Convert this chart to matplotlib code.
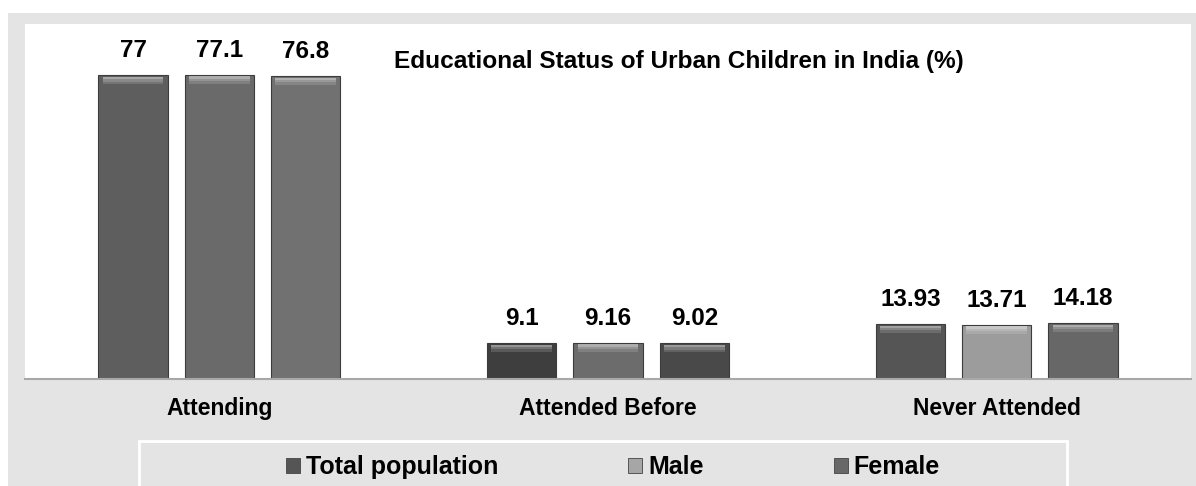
import matplotlib
matplotlib.use('Agg')
import matplotlib.pyplot as plt
import numpy as np
from matplotlib.patches import Rectangle, Patch

# ---- data ----
categories = ['Attending', 'Attended Before', 'Never Attended']
series = ['Total population', 'Male', 'Female']
total_population = [77, 9.1, 13.93]
male = [77.1, 9.16, 13.71]
female = [76.8, 9.02, 14.18]
title = 'Educational Status of Urban Children in India (%)'

# ---- style ----
bar_colors = [
    ['#5e5e5e', '#3e3e3e', '#555555'],
    ['#6a6a6a', '#6c6c6c', '#9c9c9c'],
    ['#717171', '#494949', '#676767'],
]
legend_colors = ['#555555', '#a6a6a6', '#686868']
# bevel bands below each bar top: (depth from top, thickness, alpha) in data units
bevel = [(1.0, 0.6, 0.45), (1.6, 0.6, 0.28), (2.2, 0.6, 0.14)]

plt.rcParams['font.family'] = ['Liberation Sans', 'DejaVu Sans']

W, H = 1196, 486
fig = plt.figure(figsize=(W / 100, H / 100), dpi=100)
fig.patch.set_facecolor('white')

# grey outer frame
fig.patches.append(Rectangle((8 / W, 0), 1.0, (H - 13) / H, transform=fig.transFigure,
                             fc='#e4e4e4', ec='none', zorder=-10))

ax = fig.add_axes([25 / W, (H - 379) / H, (1191 - 25) / W, (379 - 24) / H])
ax.set_facecolor('white')

x = np.arange(len(categories))
offsets = [-0.222, 0.0, 0.222]
width = 0.178
values = [total_population, male, female]

for si, (vals, off) in enumerate(zip(values, offsets)):
    ax.bar(x + off, vals, width=width, color=bar_colors[si], edgecolor='#3c3c3c',
           linewidth=0.8, zorder=2)
    # soft bevel highlight near the top of each bar
    for depth, thick, alpha in bevel:
        ax.bar(x + off, [thick] * len(vals), bottom=[v - depth for v in vals],
               width=width * 0.88, color='white', alpha=alpha, linewidth=0, zorder=3)
    for xi, v in zip(x + off, vals):
        ax.annotate(f'{v:g}', (xi, v), xytext=(0, 13), textcoords='offset points',
                    ha='center', va='baseline', fontsize=17.5, fontweight='bold',
                    color='#000000')

ax.set_xlim(-0.5, 2.5)
ax.set_ylim(0, 90)
for s in ['top', 'left', 'right']:
    ax.spines[s].set_visible(False)
ax.spines['bottom'].set_color('#a8a8a8')
ax.spines['bottom'].set_linewidth(1.5)
ax.spines['bottom'].set_zorder(4)
ax.set_yticks([])
ax.set_xticks(x)
ax.set_xticklabels(categories, fontsize=16.5, fontweight='bold', color='#000000')
ax.tick_params(axis='x', length=0, pad=13)

fig.text(394 / W, (H - 68) / H, title, ha='left', va='baseline', fontsize=17.6,
         fontweight='bold', color='#000000')

# legend
fig.patches.append(Rectangle((139 / W, -0.1), (1067 - 139) / W, (H - 441) / H + 0.1,
                             transform=fig.transFigure, fc='none', ec='white', lw=2,
                             zorder=1))
handles = [Patch(fc=c, ec='#444444', lw=0.6) for c in legend_colors]
fig.legend(handles, series, loc='center', bbox_to_anchor=(613 / W, (H - 467) / H),
           ncol=3, frameon=False, prop={'size': 18, 'weight': 'bold'},
           handlelength=0.55, handleheight=0.55, handletextpad=0.25,
           columnspacing=5.2, labelcolor='#000000')

fig.savefig('out.png', dpi=100)
